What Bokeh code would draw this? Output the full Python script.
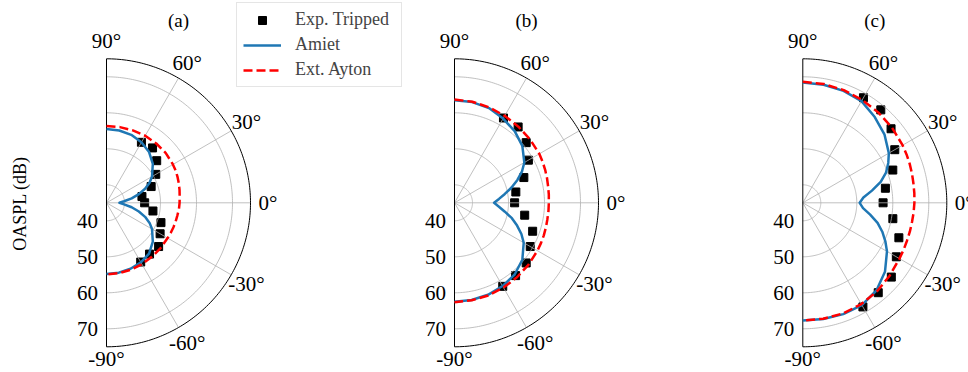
import numpy as np
from bokeh.plotting import figure
from bokeh.models import Range1d, Legend, LegendItem
from bokeh.core.properties import value
from bokeh.embed import file_html
from bokeh.resources import INLINE

# ---------------- data ----------------
panel_titles = ["(a)", "(b)", "(c)"]
y_label = "OASPL (dB)"

theta_ticks = [90, 60, 30, 0, -30, -60, -90]
theta_tick_labels = ["90°", "60°", "30°", "0°", "-30°", "-60°", "-90°"]
r_ticks = [40, 50, 60, 70]
r_tick_labels = ["40", "50", "60", "70"]
r_min, r_max = 35, 75

exp_angles = [60, 50, 40, 30, 20, 10, 0, -10, -20, -30, -40, -50, -60]
exp_a = [54.4, 54.9, 53.2, 50.8, 48.2, 45.0, 45.6, 48.1, 51.1, 52.2, 53.9, 53.6, 54.0]
exp_b = [62.2, 62.5, 61.0, 58.7, 55.5, 52.3, 51.7, 54.8, 58.1, 59.3, 61.0, 61.4, 61.8]
exp_c = [68.7, 68.7, 67.0, 64.5, 61.6, 58.3, 57.3, 60.4, 63.4, 65.0, 67.1, 67.6, 68.4]

curve_angles = [90, 80, 70, 60, 50, 40, 30, 25, 20, 15, 10, 5, 0,
                -5, -10, -15, -20, -25, -30, -40, -50, -60, -70, -80, -90]
amiet_a = [55.5, 55.4, 55.1, 54.4, 53.4, 51.8, 49.6, 48.2, 46.4, 44.3, 42.1, 39.9, 38.6,
           39.9, 42.1, 44.3, 46.4, 48.2, 49.6, 51.8, 53.4, 54.1, 54.5, 54.7, 54.8]
amiet_b = [63.5, 63.4, 63.0, 62.0, 61.0, 59.6, 57.4, 55.7, 53.6, 51.4, 49.2, 47.4, 46.0,
           47.4, 49.2, 51.5, 53.5, 55.5, 57.2, 59.6, 61.0, 61.7, 62.2, 62.4, 62.5]
amiet_c = [68.4, 68.3, 68.1, 67.6, 66.1, 64.6, 62.6, 61.2, 59.6, 57.4, 54.5, 51.9, 50.8,
           51.8, 54.0, 56.5, 58.5, 60.3, 62.0, 64.8, 66.8, 67.8, 67.9, 67.8, 67.7]
ayton_a = [56.3, 56.35, 56.4, 56.5, 56.5, 56.5, 56.3, 56.2, 56.0, 55.8, 55.6, 55.4, 55.3,
           55.2, 55.0, 54.9, 54.8, 54.7, 54.6, 54.6, 54.6, 54.7, 54.8, 54.85, 54.9]
ayton_b = [63.7, 63.5, 63.2, 62.9, 62.6, 62.4, 62.2, 62.0, 61.8, 61.6, 61.4, 61.3, 61.2,
           61.2, 61.2, 61.3, 61.4, 61.5, 61.6, 61.8, 62.0, 62.2, 62.4, 62.5, 62.6]
ayton_c = [68.6, 68.5, 68.3, 68.0, 67.7, 67.4, 67.0, 66.8, 66.6, 66.4, 66.2, 66.1, 66.0,
           65.9, 65.8, 65.8, 65.8, 65.9, 66.0, 66.5, 67.1, 67.5, 67.7, 67.7, 67.7]

exp_series = [exp_a, exp_b, exp_c]
amiet_series = [amiet_a, amiet_b, amiet_c]
ayton_series = [ayton_a, ayton_b, ayton_c]

legend_labels = ["Exp. Tripped", "Amiet", "Ext. Ayton"]

# ---------------- layout / style ----------------
W, H = 968, 372
FONT = "Liberation Serif"
centers_x = [106.0, 454.0, 802.3]
center_y = 202.3
PX_PER_DB = 3.6
LABEL_R_PX = 161.5
BLUE = "#1f77b4"
RED = "#ff0000"
GRID = "#b0b0b0"


def polar(cx, ang_deg, db):
    a = np.radians(np.asarray(ang_deg, dtype=float))
    r = (np.asarray(db, dtype=float) - r_min) * PX_PER_DB
    return cx + r * np.cos(a), center_y - r * np.sin(a)


p = figure(width=W, height=H, x_range=Range1d(0, W), y_range=Range1d(H, 0),
           output_backend="svg", toolbar_location=None, min_border=0,
           x_axis_location=None, y_axis_location=None)
p.xgrid.visible = False
p.ygrid.visible = False
p.outline_line_color = None

full = np.linspace(-90, 90, 181)
renderers = {}
for i, cx in enumerate(centers_x):
    # experimental squares (below grid)
    ex, ey = polar(cx, exp_angles, exp_series[i])
    sq = p.scatter(ex, ey, marker="square", size=8, color="black")

    # grid circles and spokes
    xs, ys = [], []
    for rt in r_ticks:
        gx, gy = polar(cx, full, [rt] * len(full))
        xs.append(list(gx)); ys.append(list(gy))
    for t in [60, 30, 0, -30, -60]:
        gx, gy = polar(cx, [t, t], [r_min, r_max])
        xs.append(list(gx)); ys.append(list(gy))
    p.multi_line(xs, ys, line_color=GRID, line_width=0.8)

    # spines
    ox, oy = polar(cx, full, [r_max] * len(full))
    p.line(ox, oy, line_color="black", line_width=1)
    vx, vy = polar(cx, [90, -90], [r_max, r_max])
    p.line(vx, vy, line_color="black", line_width=1)

    # model curves
    bx, by = polar(cx, curve_angles, amiet_series[i])
    bl = p.line(bx, by, line_color=BLUE, line_width=2.5, line_join="round")
    rx, ry = polar(cx, curve_angles, ayton_series[i])
    rl = p.line(rx, ry, line_color=RED, line_width=2.5, line_dash="9 4")
    if i == 0:
        renderers = {"sq": sq, "bl": bl, "rl": rl}

    # angular tick labels
    la = np.radians(np.array(theta_ticks, dtype=float))
    tx = cx + LABEL_R_PX * np.cos(la)
    ty = center_y - LABEL_R_PX * np.sin(la)
    ty[-1] = center_y + 156.5
    p.text(tx, ty, text=theta_tick_labels, text_align="center", text_baseline="middle",
           text_font=value(FONT), text_font_size=value("21px"), text_color="black")

    # radial tick labels
    rr = (np.array(r_ticks, dtype=float) - r_min) * PX_PER_DB
    p.text([cx - 8.5] * len(r_ticks), center_y + rr, text=r_tick_labels,
           text_align="right", text_baseline="middle",
           text_font=value(FONT), text_font_size=value("21px"), text_color="black")

    # panel title
    p.text([cx + 72], [20], text=[panel_titles[i]], text_align="center", text_baseline="middle",
           text_font=value(FONT), text_font_size=value("19px"), text_color="black")

# y label
p.text([19], [203], text=[y_label], angle=np.pi / 2, text_align="center", text_baseline="middle",
       text_font=value(FONT), text_font_size=value("18px"), text_color="black")

legend = Legend(items=[LegendItem(label=legend_labels[0], renderers=[renderers["sq"]]),
                       LegendItem(label=legend_labels[1], renderers=[renderers["bl"]]),
                       LegendItem(label=legend_labels[2], renderers=[renderers["rl"]])],
                location=(236, 285), orientation="vertical")
legend.border_line_color = "#cccccc"
legend.border_line_width = 1
legend.background_fill_color = "white"
legend.background_fill_alpha = 1.0
legend.label_text_font = FONT
legend.label_text_font_size = "18px"
legend.glyph_width = 38
legend.glyph_height = 20
legend.label_height = 20
legend.label_width = 100
legend.label_standoff = 14
legend.padding = 6
legend.spacing = 4
legend.margin = 0
p.add_layout(legend)

open("out.html", "w").write(file_html(p, INLINE))
